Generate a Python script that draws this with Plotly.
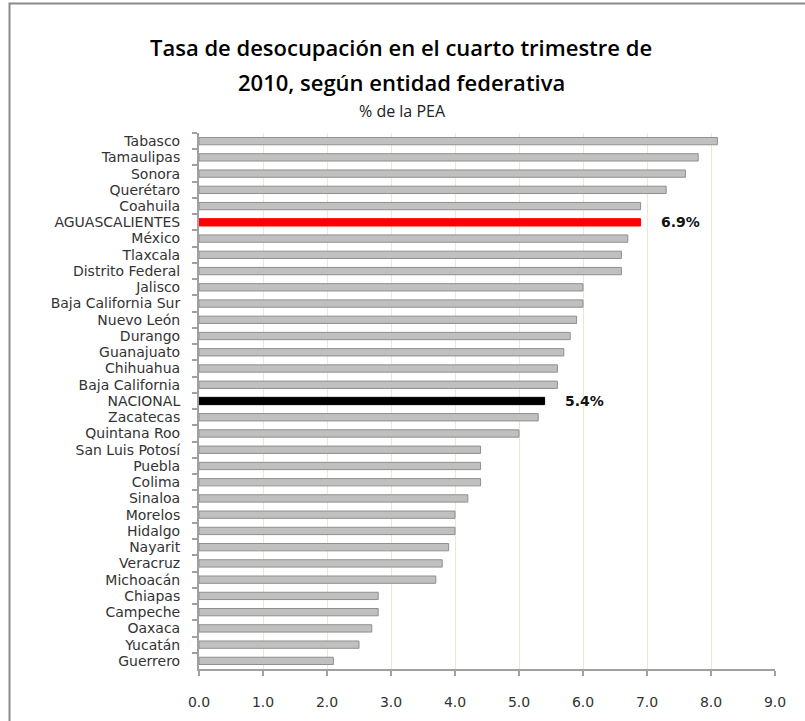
import plotly.graph_objects as go

states = ["Tabasco", "Tamaulipas", "Sonora", "Querétaro", "Coahuila", "AGUASCALIENTES",
          "México", "Tlaxcala", "Distrito Federal", "Jalisco", "Baja California Sur",
          "Nuevo León", "Durango", "Guanajuato", "Chihuahua", "Baja California", "NACIONAL",
          "Zacatecas", "Quintana Roo", "San Luis Potosí", "Puebla", "Colima", "Sinaloa",
          "Morelos", "Hidalgo", "Nayarit", "Veracruz", "Michoacán", "Chiapas", "Campeche",
          "Oaxaca", "Yucatán", "Guerrero"]
rates = [8.1, 7.8, 7.6, 7.3, 6.9, 6.9, 6.7, 6.6, 6.6, 6.0, 6.0, 5.9, 5.8, 5.7, 5.6, 5.6, 5.4,
         5.3, 5.0, 4.4, 4.4, 4.4, 4.2, 4.0, 4.0, 3.9, 3.8, 3.7, 2.8, 2.8, 2.7, 2.5, 2.1]
x_ticks = [0, 1, 2, 3, 4, 5, 6, 7, 8, 9]

highlight = {"AGUASCALIENTES": "#ff0000", "NACIONAL": "#000000"}
colors = [highlight.get(s, "#c0c0c0") for s in states]
lines = [highlight.get(s, "#8f8f8f") for s in states]

# body margin is removed in the page, so figure pixels == page pixels
W, H = 805, 721
L, T = 199, 133
plot_right, plot_bottom = 775, 669
R, B = W - plot_right, H - plot_bottom
pw, ph = plot_right - L, plot_bottom - T

LABEL_FONT = "DejaVu Sans"

fig = go.Figure(go.Bar(
    x=rates, y=states, orientation="h",
    marker=dict(color=colors, line=dict(color=lines, width=1)),
    hoverinfo="x+y",
))

for s, v in zip(states, rates):
    if s in highlight:
        fig.add_annotation(x=v, y=s, text=f"{v:.1f}%", showarrow=False,
                           xanchor="left", xshift=18,
                           font=dict(family=LABEL_FONT, size=14, color="#111", weight="bold"))

def px_to_paper_x(px):
    return (px - L) / pw

def px_to_paper_y(py):
    return (plot_bottom - py) / ph

fig.add_annotation(xref="paper", yref="paper", x=px_to_paper_x(401), y=px_to_paper_y(47),
                   text="Tasa de desocupación en el cuarto trimestre de", showarrow=False,
                   xanchor="center", yanchor="middle",
                   font=dict(family="Open Sans", size=22, color="#000", weight=600))
fig.add_annotation(xref="paper", yref="paper", x=px_to_paper_x(401), y=px_to_paper_y(82),
                   text="2010, según entidad federativa", showarrow=False,
                   xanchor="center", yanchor="middle",
                   font=dict(family="Open Sans", size=22, color="#000", weight=600))
fig.add_annotation(xref="paper", yref="paper", x=px_to_paper_x(402), y=px_to_paper_y(111),
                   text="% de la PEA", showarrow=False,
                   xanchor="center", yanchor="middle",
                   font=dict(family="Open Sans", size=16, color="#222"))

fig.add_shape(type="rect", xref="paper", yref="paper",
              x0=px_to_paper_x(9.5), x1=px_to_paper_x(W + 40),
              y0=px_to_paper_y(H + 40), y1=px_to_paper_y(3.5),
              line=dict(color="#8a8a8a", width=2), fillcolor="rgba(0,0,0,0)", layer="below")

fig.update_layout(
    width=W, height=H,
    margin=dict(l=L, r=R, t=T, b=B, autoexpand=False),
    paper_bgcolor="white", plot_bgcolor="white",
    showlegend=False, bargap=0.55,
    font=dict(family=LABEL_FONT, size=14, color="#333"),
)
fig.update_xaxes(range=[0, 9], tickvals=x_ticks, tickformat=".1f",
                 showgrid=True, gridcolor="#ebe8d4", gridwidth=1,
                 showline=True, linecolor="#a0a0a0", linewidth=2,
                 ticks="outside", ticklen=5, tickcolor="#a0a0a0", tickwidth=2,
                 ticklabelstandoff=14,
                 tickfont=dict(family=LABEL_FONT, size=14, color="#333"), zeroline=False)
fig.update_yaxes(autorange="reversed", type="category", tickson="boundaries",
                 tickmode="linear", tick0=0, dtick=1,
                 showline=True, linecolor="#a0a0a0", linewidth=2,
                 ticks="outside", ticklen=5, tickcolor="#a0a0a0", tickwidth=2,
                 showgrid=False, ticklabelstandoff=14,
                 tickfont=dict(family=LABEL_FONT, size=14, color="#333"))

fig.write_html("out.html", config={"displayModeBar": False},
               post_script="document.body.style.margin='0px';")
